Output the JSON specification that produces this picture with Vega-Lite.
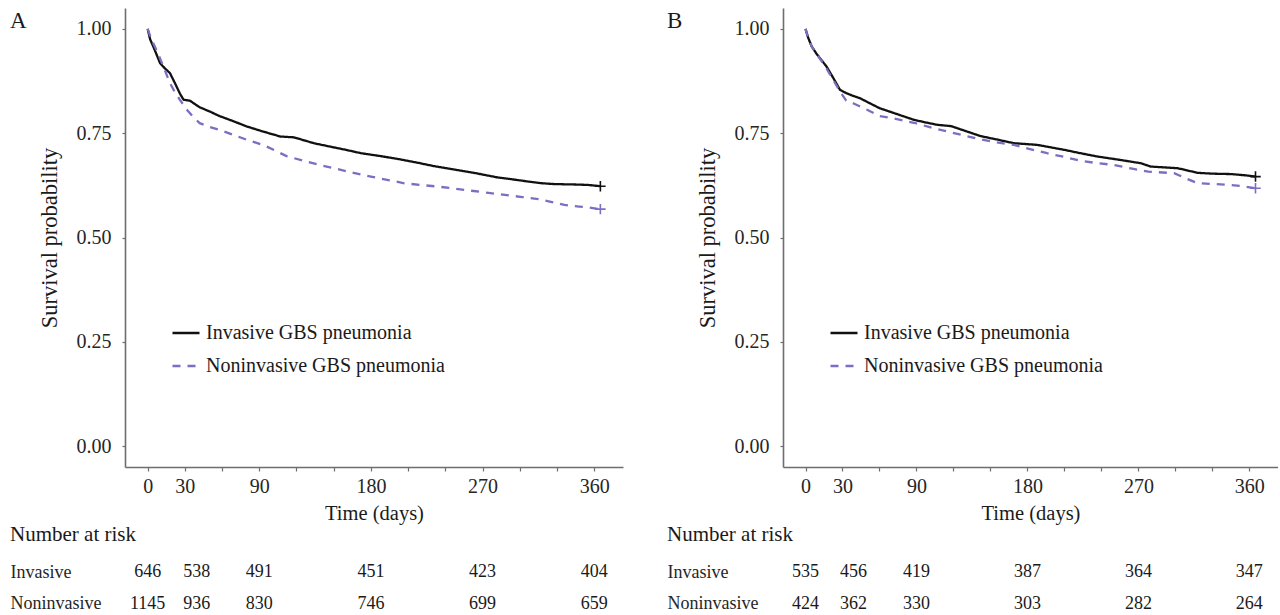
{
  "$schema": "https://vega.github.io/schema/vega-lite/v6.json",
  "padding": {"left": 10, "top": 8, "right": 0, "bottom": 0},
  "background": "white",
  "datasets": {
    "curveA": [
      {"time": 0, "surv": 1.0, "group": "Invasive GBS pneumonia"},
      {"time": 2, "surv": 0.975, "group": "Invasive GBS pneumonia"},
      {"time": 4.5, "surv": 0.958, "group": "Invasive GBS pneumonia"},
      {"time": 7, "surv": 0.94, "group": "Invasive GBS pneumonia"},
      {"time": 10, "surv": 0.918, "group": "Invasive GBS pneumonia"},
      {"time": 14, "surv": 0.905, "group": "Invasive GBS pneumonia"},
      {"time": 18, "surv": 0.894, "group": "Invasive GBS pneumonia"},
      {"time": 22, "surv": 0.87, "group": "Invasive GBS pneumonia"},
      {"time": 26, "surv": 0.845, "group": "Invasive GBS pneumonia"},
      {"time": 29, "surv": 0.83, "group": "Invasive GBS pneumonia"},
      {"time": 34, "surv": 0.828, "group": "Invasive GBS pneumonia"},
      {"time": 38, "surv": 0.82, "group": "Invasive GBS pneumonia"},
      {"time": 42, "surv": 0.812, "group": "Invasive GBS pneumonia"},
      {"time": 50, "surv": 0.802, "group": "Invasive GBS pneumonia"},
      {"time": 58, "surv": 0.791, "group": "Invasive GBS pneumonia"},
      {"time": 68, "surv": 0.78, "group": "Invasive GBS pneumonia"},
      {"time": 80, "surv": 0.766, "group": "Invasive GBS pneumonia"},
      {"time": 93, "surv": 0.754, "group": "Invasive GBS pneumonia"},
      {"time": 107, "surv": 0.742, "group": "Invasive GBS pneumonia"},
      {"time": 118, "surv": 0.74, "group": "Invasive GBS pneumonia"},
      {"time": 126, "surv": 0.733, "group": "Invasive GBS pneumonia"},
      {"time": 134, "surv": 0.726, "group": "Invasive GBS pneumonia"},
      {"time": 150, "surv": 0.716, "group": "Invasive GBS pneumonia"},
      {"time": 160, "surv": 0.71, "group": "Invasive GBS pneumonia"},
      {"time": 172, "surv": 0.702, "group": "Invasive GBS pneumonia"},
      {"time": 188, "surv": 0.695, "group": "Invasive GBS pneumonia"},
      {"time": 204, "surv": 0.687, "group": "Invasive GBS pneumonia"},
      {"time": 218, "surv": 0.679, "group": "Invasive GBS pneumonia"},
      {"time": 231, "surv": 0.671, "group": "Invasive GBS pneumonia"},
      {"time": 245, "surv": 0.664, "group": "Invasive GBS pneumonia"},
      {"time": 263, "surv": 0.655, "group": "Invasive GBS pneumonia"},
      {"time": 282, "surv": 0.644, "group": "Invasive GBS pneumonia"},
      {"time": 295, "surv": 0.639, "group": "Invasive GBS pneumonia"},
      {"time": 307, "surv": 0.634, "group": "Invasive GBS pneumonia"},
      {"time": 318, "surv": 0.63, "group": "Invasive GBS pneumonia"},
      {"time": 328, "surv": 0.628, "group": "Invasive GBS pneumonia"},
      {"time": 345, "surv": 0.627, "group": "Invasive GBS pneumonia"},
      {"time": 355, "surv": 0.626, "group": "Invasive GBS pneumonia"},
      {"time": 365, "surv": 0.623, "group": "Invasive GBS pneumonia"},
      {"time": 0, "surv": 1.0, "group": "Noninvasive GBS pneumonia"},
      {"time": 3, "surv": 0.975, "group": "Noninvasive GBS pneumonia"},
      {"time": 7, "surv": 0.95, "group": "Noninvasive GBS pneumonia"},
      {"time": 12, "surv": 0.915, "group": "Noninvasive GBS pneumonia"},
      {"time": 18, "surv": 0.87, "group": "Noninvasive GBS pneumonia"},
      {"time": 22, "surv": 0.848, "group": "Noninvasive GBS pneumonia"},
      {"time": 26, "surv": 0.83, "group": "Noninvasive GBS pneumonia"},
      {"time": 32, "surv": 0.805, "group": "Noninvasive GBS pneumonia"},
      {"time": 37, "surv": 0.788, "group": "Noninvasive GBS pneumonia"},
      {"time": 42, "surv": 0.774, "group": "Noninvasive GBS pneumonia"},
      {"time": 50, "surv": 0.765, "group": "Noninvasive GBS pneumonia"},
      {"time": 58, "surv": 0.758, "group": "Noninvasive GBS pneumonia"},
      {"time": 70, "surv": 0.745, "group": "Noninvasive GBS pneumonia"},
      {"time": 80, "surv": 0.734, "group": "Noninvasive GBS pneumonia"},
      {"time": 93, "surv": 0.722, "group": "Noninvasive GBS pneumonia"},
      {"time": 103, "surv": 0.708, "group": "Noninvasive GBS pneumonia"},
      {"time": 112, "surv": 0.695, "group": "Noninvasive GBS pneumonia"},
      {"time": 128, "surv": 0.682, "group": "Noninvasive GBS pneumonia"},
      {"time": 140, "surv": 0.673, "group": "Noninvasive GBS pneumonia"},
      {"time": 153, "surv": 0.664, "group": "Noninvasive GBS pneumonia"},
      {"time": 166, "surv": 0.655, "group": "Noninvasive GBS pneumonia"},
      {"time": 180, "surv": 0.646, "group": "Noninvasive GBS pneumonia"},
      {"time": 195, "surv": 0.637, "group": "Noninvasive GBS pneumonia"},
      {"time": 207, "surv": 0.63, "group": "Noninvasive GBS pneumonia"},
      {"time": 220, "surv": 0.626, "group": "Noninvasive GBS pneumonia"},
      {"time": 234, "surv": 0.622, "group": "Noninvasive GBS pneumonia"},
      {"time": 248, "surv": 0.617, "group": "Noninvasive GBS pneumonia"},
      {"time": 261, "surv": 0.612, "group": "Noninvasive GBS pneumonia"},
      {"time": 275, "surv": 0.607, "group": "Noninvasive GBS pneumonia"},
      {"time": 288, "surv": 0.602, "group": "Noninvasive GBS pneumonia"},
      {"time": 302, "surv": 0.597, "group": "Noninvasive GBS pneumonia"},
      {"time": 315, "surv": 0.592, "group": "Noninvasive GBS pneumonia"},
      {"time": 326, "surv": 0.585, "group": "Noninvasive GBS pneumonia"},
      {"time": 336, "surv": 0.578, "group": "Noninvasive GBS pneumonia"},
      {"time": 348, "surv": 0.574, "group": "Noninvasive GBS pneumonia"},
      {"time": 355, "surv": 0.572, "group": "Noninvasive GBS pneumonia"},
      {"time": 365, "surv": 0.568, "group": "Noninvasive GBS pneumonia"}
    ],
    "curveB": [
      {"time": 0, "surv": 1.0, "group": "Invasive GBS pneumonia"},
      {"time": 2, "surv": 0.98, "group": "Invasive GBS pneumonia"},
      {"time": 5, "surv": 0.958, "group": "Invasive GBS pneumonia"},
      {"time": 9, "surv": 0.94, "group": "Invasive GBS pneumonia"},
      {"time": 13, "surv": 0.925, "group": "Invasive GBS pneumonia"},
      {"time": 17, "surv": 0.91, "group": "Invasive GBS pneumonia"},
      {"time": 22, "surv": 0.885, "group": "Invasive GBS pneumonia"},
      {"time": 28, "surv": 0.854, "group": "Invasive GBS pneumonia"},
      {"time": 33, "surv": 0.846, "group": "Invasive GBS pneumonia"},
      {"time": 38, "surv": 0.84, "group": "Invasive GBS pneumonia"},
      {"time": 44, "surv": 0.834, "group": "Invasive GBS pneumonia"},
      {"time": 52, "surv": 0.822, "group": "Invasive GBS pneumonia"},
      {"time": 60, "surv": 0.81, "group": "Invasive GBS pneumonia"},
      {"time": 70, "surv": 0.8, "group": "Invasive GBS pneumonia"},
      {"time": 80, "surv": 0.79, "group": "Invasive GBS pneumonia"},
      {"time": 88, "surv": 0.782, "group": "Invasive GBS pneumonia"},
      {"time": 97, "surv": 0.776, "group": "Invasive GBS pneumonia"},
      {"time": 107, "surv": 0.77, "group": "Invasive GBS pneumonia"},
      {"time": 118, "surv": 0.767, "group": "Invasive GBS pneumonia"},
      {"time": 130, "surv": 0.755, "group": "Invasive GBS pneumonia"},
      {"time": 142, "surv": 0.743, "group": "Invasive GBS pneumonia"},
      {"time": 155, "surv": 0.735, "group": "Invasive GBS pneumonia"},
      {"time": 169, "surv": 0.726, "group": "Invasive GBS pneumonia"},
      {"time": 188, "surv": 0.722, "group": "Invasive GBS pneumonia"},
      {"time": 199, "surv": 0.716, "group": "Invasive GBS pneumonia"},
      {"time": 210, "surv": 0.71, "group": "Invasive GBS pneumonia"},
      {"time": 223, "surv": 0.702, "group": "Invasive GBS pneumonia"},
      {"time": 237, "surv": 0.694, "group": "Invasive GBS pneumonia"},
      {"time": 255, "surv": 0.686, "group": "Invasive GBS pneumonia"},
      {"time": 272, "surv": 0.678, "group": "Invasive GBS pneumonia"},
      {"time": 280, "surv": 0.67, "group": "Invasive GBS pneumonia"},
      {"time": 302, "surv": 0.666, "group": "Invasive GBS pneumonia"},
      {"time": 318, "surv": 0.655, "group": "Invasive GBS pneumonia"},
      {"time": 330, "surv": 0.653, "group": "Invasive GBS pneumonia"},
      {"time": 345, "surv": 0.652, "group": "Invasive GBS pneumonia"},
      {"time": 357, "surv": 0.649, "group": "Invasive GBS pneumonia"},
      {"time": 365, "surv": 0.646, "group": "Invasive GBS pneumonia"},
      {"time": 0, "surv": 1.0, "group": "Noninvasive GBS pneumonia"},
      {"time": 2, "surv": 0.98, "group": "Noninvasive GBS pneumonia"},
      {"time": 5, "surv": 0.958, "group": "Noninvasive GBS pneumonia"},
      {"time": 9, "surv": 0.94, "group": "Noninvasive GBS pneumonia"},
      {"time": 13, "surv": 0.923, "group": "Noninvasive GBS pneumonia"},
      {"time": 17, "surv": 0.905, "group": "Noninvasive GBS pneumonia"},
      {"time": 22, "surv": 0.88, "group": "Noninvasive GBS pneumonia"},
      {"time": 28, "surv": 0.85, "group": "Noninvasive GBS pneumonia"},
      {"time": 33, "surv": 0.828, "group": "Noninvasive GBS pneumonia"},
      {"time": 40, "surv": 0.82, "group": "Noninvasive GBS pneumonia"},
      {"time": 50, "surv": 0.806, "group": "Noninvasive GBS pneumonia"},
      {"time": 60, "surv": 0.791, "group": "Noninvasive GBS pneumonia"},
      {"time": 72, "surv": 0.785, "group": "Noninvasive GBS pneumonia"},
      {"time": 88, "surv": 0.775, "group": "Noninvasive GBS pneumonia"},
      {"time": 100, "surv": 0.765, "group": "Noninvasive GBS pneumonia"},
      {"time": 115, "surv": 0.754, "group": "Noninvasive GBS pneumonia"},
      {"time": 128, "surv": 0.745, "group": "Noninvasive GBS pneumonia"},
      {"time": 142, "surv": 0.735, "group": "Noninvasive GBS pneumonia"},
      {"time": 155, "surv": 0.728, "group": "Noninvasive GBS pneumonia"},
      {"time": 169, "surv": 0.722, "group": "Noninvasive GBS pneumonia"},
      {"time": 182, "surv": 0.712, "group": "Noninvasive GBS pneumonia"},
      {"time": 196, "surv": 0.702, "group": "Noninvasive GBS pneumonia"},
      {"time": 210, "surv": 0.693, "group": "Noninvasive GBS pneumonia"},
      {"time": 223, "surv": 0.684, "group": "Noninvasive GBS pneumonia"},
      {"time": 237, "surv": 0.678, "group": "Noninvasive GBS pneumonia"},
      {"time": 250, "surv": 0.674, "group": "Noninvasive GBS pneumonia"},
      {"time": 265, "surv": 0.665, "group": "Noninvasive GBS pneumonia"},
      {"time": 278, "surv": 0.658, "group": "Noninvasive GBS pneumonia"},
      {"time": 299, "surv": 0.654, "group": "Noninvasive GBS pneumonia"},
      {"time": 310, "surv": 0.64, "group": "Noninvasive GBS pneumonia"},
      {"time": 318, "surv": 0.63, "group": "Noninvasive GBS pneumonia"},
      {"time": 332, "surv": 0.628, "group": "Noninvasive GBS pneumonia"},
      {"time": 345, "surv": 0.626, "group": "Noninvasive GBS pneumonia"},
      {"time": 357, "surv": 0.622, "group": "Noninvasive GBS pneumonia"},
      {"time": 365, "surv": 0.618, "group": "Noninvasive GBS pneumonia"}
    ],
    "censorA": [
      {"time": 365, "surv": 0.623, "group": "Invasive GBS pneumonia"},
      {"time": 365, "surv": 0.568, "group": "Noninvasive GBS pneumonia"}
    ],
    "censorB": [
      {"time": 365, "surv": 0.646, "group": "Invasive GBS pneumonia"},
      {"time": 365, "surv": 0.618, "group": "Noninvasive GBS pneumonia"}
    ],
    "riskA": [
      {"row": "Invasive", "time": 0, "n": 646},
      {"row": "Invasive", "time": 30, "n": 538},
      {"row": "Invasive", "time": 90, "n": 491},
      {"row": "Invasive", "time": 180, "n": 451},
      {"row": "Invasive", "time": 270, "n": 423},
      {"row": "Invasive", "time": 360, "n": 404},
      {"row": "Noninvasive", "time": 0, "n": 1145},
      {"row": "Noninvasive", "time": 30, "n": 936},
      {"row": "Noninvasive", "time": 90, "n": 830},
      {"row": "Noninvasive", "time": 180, "n": 746},
      {"row": "Noninvasive", "time": 270, "n": 699},
      {"row": "Noninvasive", "time": 360, "n": 659}
    ],
    "riskB": [
      {"row": "Invasive", "time": 0, "n": 535},
      {"row": "Invasive", "time": 30, "n": 456},
      {"row": "Invasive", "time": 90, "n": 419},
      {"row": "Invasive", "time": 180, "n": 387},
      {"row": "Invasive", "time": 270, "n": 364},
      {"row": "Invasive", "time": 360, "n": 347},
      {"row": "Noninvasive", "time": 0, "n": 424},
      {"row": "Noninvasive", "time": 30, "n": 362},
      {"row": "Noninvasive", "time": 90, "n": 330},
      {"row": "Noninvasive", "time": 180, "n": 303},
      {"row": "Noninvasive", "time": 270, "n": 282},
      {"row": "Noninvasive", "time": 360, "n": 264}
    ]
  },
  "hconcat": [
    {
      "title": {"text": "A", "anchor": "start", "frame": "bounds", "orient": "top", "baseline": "alphabetic", "offset": -43, "fontSize": 23, "fontWeight": "normal", "font": "Liberation Serif", "color": "#1a1a1a"},
      "spacing": 0,
      "vconcat": [
        {
          "width": 498,
          "height": 459,
          "layer": [
            {
              "data": {"name": "curveA"},
              "mark": {"type": "line", "strokeWidth": 2.3},
              "encoding": {
                "x": {"field": "time", "type": "quantitative", "scale": {"domain": [-18.25, 383.25], "nice": false, "zero": false},
                  "axis": {"title": "Time (days)", "values": [0, 30, 60, 90, 120, 150, 180, 210, 240, 270, 300, 330, 360], "labelExpr": "indexof([0, 30, 90, 180, 270, 360], datum.value) >= 0 ? datum.label : ''"}},
                "y": {"field": "surv", "type": "quantitative", "scale": {"domain": [-0.05, 1.05], "nice": false, "zero": false},
                  "axis": {"title": "Survival probability", "values": [0, 0.25, 0.5, 0.75, 1], "format": ".2f"}},
                "color": {"field": "group", "type": "nominal", "title": null,
                  "scale": {"domain": ["Invasive GBS pneumonia", "Noninvasive GBS pneumonia"], "range": ["#111111", "#7a6fc2"]},
                  "legend": {"orient": "none", "legendX": 46, "legendY": 310}},
                "strokeDash": {"field": "group", "type": "nominal", "title": null,
                  "scale": {"domain": ["Invasive GBS pneumonia", "Noninvasive GBS pneumonia"], "range": [[1, 0], [8, 7]]},
                  "legend": {"orient": "none", "legendX": 46, "legendY": 310}}
              }
            },
            {
              "data": {"name": "censorA"},
              "mark": {"type": "point", "shape": "M-1,0L1,0M0,-1L0,1", "filled": false, "size": 110, "strokeWidth": 1.6, "opacity": 1},
              "encoding": {
                "x": {"field": "time", "type": "quantitative"},
                "y": {"field": "surv", "type": "quantitative"},
                "color": {"field": "group", "type": "nominal", "legend": null}
              }
            }
          ]
        },
        {
          "width": 498,
          "height": 44,
          "title": {"text": "Number at risk", "anchor": "start", "frame": "bounds", "fontSize": 21, "fontWeight": "normal", "font": "Liberation Serif", "color": "#1a1a1a", "offset": 18},
          "data": {"name": "riskA"},
          "encoding": {
            "x": {"field": "time", "type": "quantitative", "scale": {"domain": [-18.25, 383.25], "nice": false, "zero": false}, "axis": null},
            "y": {"field": "row", "type": "nominal", "scale": {"type": "point", "domain": ["Invasive", "Noninvasive"], "padding": 0.2},
              "axis": {"title": null, "domain": false, "ticks": false, "labelAlign": "left", "labelPadding": 115, "labelFontSize": 18}},
            "text": {"field": "n", "type": "quantitative"}
          },
          "layer": [
            {"transform": [{"filter": "datum.time != 30"}], "mark": {"type": "text", "fontSize": 18, "font": "Liberation Serif", "color": "#1a1a1a", "baseline": "middle"}},
            {"transform": [{"filter": "datum.time == 30"}], "mark": {"type": "text", "fontSize": 18, "font": "Liberation Serif", "color": "#1a1a1a", "baseline": "middle", "dx": 12}}
          ]
        }
      ]
    },
    {
      "title": {"text": "B", "anchor": "start", "frame": "bounds", "orient": "top", "baseline": "alphabetic", "offset": -43, "fontSize": 23, "fontWeight": "normal", "font": "Liberation Serif", "color": "#1a1a1a"},
      "spacing": 0,
      "vconcat": [
        {
          "width": 495,
          "height": 459,
          "layer": [
            {
              "data": {"name": "curveB"},
              "mark": {"type": "line", "strokeWidth": 2.3},
              "encoding": {
                "x": {"field": "time", "type": "quantitative", "scale": {"domain": [-18.25, 383.25], "nice": false, "zero": false},
                  "axis": {"title": "Time (days)", "values": [0, 30, 60, 90, 120, 150, 180, 210, 240, 270, 300, 330, 360], "labelExpr": "indexof([0, 30, 90, 180, 270, 360], datum.value) >= 0 ? datum.label : ''"}},
                "y": {"field": "surv", "type": "quantitative", "scale": {"domain": [-0.05, 1.05], "nice": false, "zero": false},
                  "axis": {"title": "Survival probability", "values": [0, 0.25, 0.5, 0.75, 1], "format": ".2f"}},
                "color": {"field": "group", "type": "nominal", "title": null,
                  "scale": {"domain": ["Invasive GBS pneumonia", "Noninvasive GBS pneumonia"], "range": ["#111111", "#7a6fc2"]},
                  "legend": {"orient": "none", "legendX": 46, "legendY": 310}},
                "strokeDash": {"field": "group", "type": "nominal", "title": null,
                  "scale": {"domain": ["Invasive GBS pneumonia", "Noninvasive GBS pneumonia"], "range": [[1, 0], [8, 7]]},
                  "legend": {"orient": "none", "legendX": 46, "legendY": 310}}
              }
            },
            {
              "data": {"name": "censorB"},
              "mark": {"type": "point", "shape": "M-1,0L1,0M0,-1L0,1", "filled": false, "size": 110, "strokeWidth": 1.6, "opacity": 1},
              "encoding": {
                "x": {"field": "time", "type": "quantitative"},
                "y": {"field": "surv", "type": "quantitative"},
                "color": {"field": "group", "type": "nominal", "legend": null}
              }
            }
          ]
        },
        {
          "width": 495,
          "height": 44,
          "title": {"text": "Number at risk", "anchor": "start", "frame": "bounds", "fontSize": 21, "fontWeight": "normal", "font": "Liberation Serif", "color": "#1a1a1a", "offset": 18},
          "data": {"name": "riskB"},
          "encoding": {
            "x": {"field": "time", "type": "quantitative", "scale": {"domain": [-18.25, 383.25], "nice": false, "zero": false}, "axis": null},
            "y": {"field": "row", "type": "nominal", "scale": {"type": "point", "domain": ["Invasive", "Noninvasive"], "padding": 0.2},
              "axis": {"title": null, "domain": false, "ticks": false, "labelAlign": "left", "labelPadding": 116, "labelFontSize": 18}},
            "text": {"field": "n", "type": "quantitative"}
          },
          "layer": [
            {"transform": [{"filter": "datum.time != 30"}], "mark": {"type": "text", "fontSize": 18, "font": "Liberation Serif", "color": "#1a1a1a", "baseline": "middle"}},
            {"transform": [{"filter": "datum.time == 30"}], "mark": {"type": "text", "fontSize": 18, "font": "Liberation Serif", "color": "#1a1a1a", "baseline": "middle", "dx": 11}}
          ]
        }
      ]
    }
  ],
  "spacing": 44,
  "resolve": {
    "scale": {"color": "independent", "strokeDash": "independent"},
    "legend": {"color": "independent", "strokeDash": "independent"}
  },
  "config": {
    "view": {"stroke": null},
    "font": "Liberation Serif",
    "axis": {
      "grid": false,
      "domainColor": "#6e6e6e",
      "domainWidth": 1.6,
      "tickColor": "#6e6e6e",
      "tickWidth": 1.2,
      "tickSize": 4,
      "labelFont": "Liberation Serif",
      "labelFontSize": 20,
      "labelColor": "#262626",
      "labelPadding": 5,
      "titleFont": "Liberation Serif",
      "titleFontSize": 21,
      "titleFontWeight": "normal",
      "titleColor": "#1a1a1a"
    },
    "axisY": {"tickSize": 3, "labelPadding": 11, "titlePadding": 15, "titleFontSize": 22.5},
    "axisX": {"titlePadding": 7, "titleFontSize": 20.5},
    "legend": {
      "labelFont": "Liberation Serif",
      "labelFontSize": 20,
      "labelColor": "#1a1a1a",
      "labelLimit": 0,
      "symbolType": "stroke",
      "symbolSize": 729,
      "symbolStrokeWidth": 2.5,
      "labelOffset": 5,
      "rowPadding": 8,
      "padding": 0
    }
  }
}
